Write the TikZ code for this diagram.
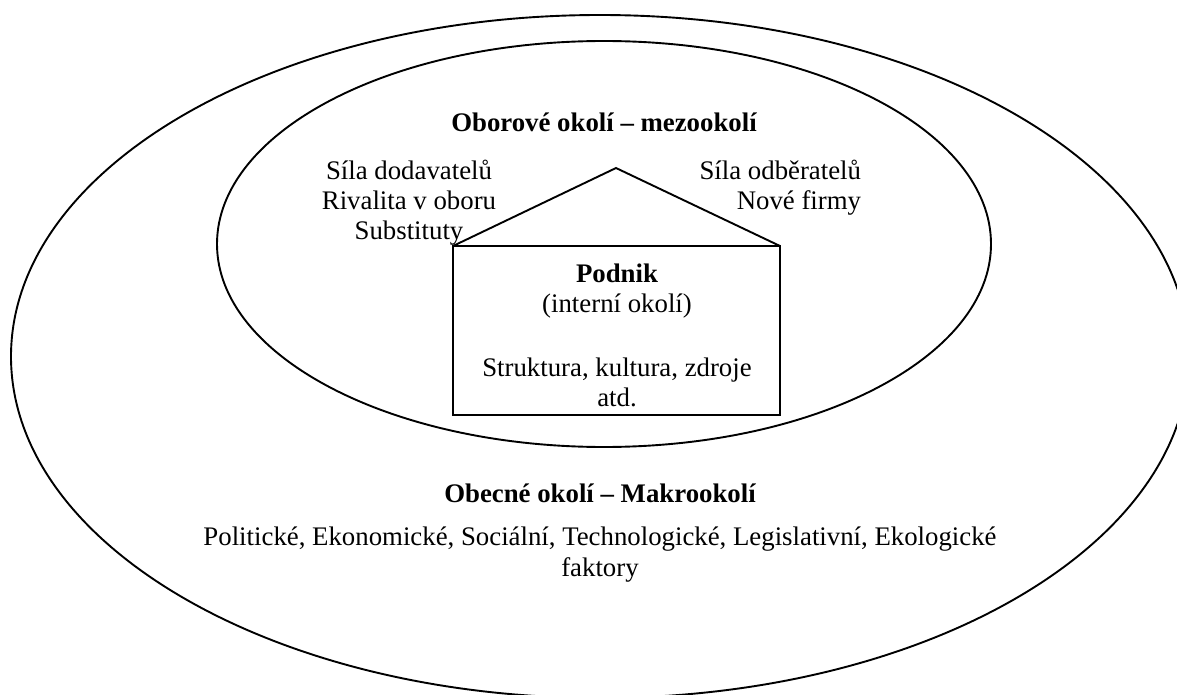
\documentclass[tikz,border=0pt]{standalone}
\usepackage{fontspec}
\setmainfont{Liberation Serif}
\usetikzlibrary{positioning}

\begin{document}
\begin{tikzpicture}[x=0.5pt, y=-0.5pt, line width=0.95pt,
  txt/.style={anchor=base, inner sep=0pt, font=\fontsize{13.4}{15}\selectfont},
  head/.style={txt, font=\fontsize{13.4}{15}\selectfont\bfseries}]
\clip (0,0) rectangle (1177,695);
\fill[white] (0,0) rectangle (1177,695);

% makro and mezo
\draw (600,356.5) ellipse [x radius=294.5pt, y radius=170.75pt];
\draw (604,244) ellipse [x radius=193.5pt, y radius=101.5pt];

% the house
\coordinate (roof) at (616,168);
\coordinate (hl) at (453,246);
\coordinate (hr) at (780,246);
\coordinate (hb) at (780,415);
\draw (hl) -- (roof) -- (hr);
\draw (hl) rectangle (hb);

\node[head] (mezo) at (604,132) {Oborové okolí – mezookolí};

\foreach \t [count=\i, evaluate=\i as \yb using 150+30*\i] in {Síla dodavatelů, Rivalita v oboru, Substituty}
  \node[txt] (sup\i) at (409,\yb) {\t};

\foreach \t [count=\i, evaluate=\i as \yb using 150+30*\i] in {Síla odběratelů, Nové firmy}
  \node[txt, anchor=base east] (buy\i) at (862,\yb) {\t};

\node[head] (firm) at (617,282) {Podnik};
\node[txt] (intern) at (617,312) {(interní okolí)};
\node[txt] (res1) at (617,376) {Struktura, kultura, zdroje};
\node[txt] (res2) at (617,406) {atd.};

\node[head] (makro) at (600,502) {Obecné okolí – Makrookolí};
\node[txt] (fact1) at (600,545) {Politické, Ekonomické, Sociální, Technologické, Legislativní, Ekologické};
\node[txt] (fact2) at (600,576) {faktory};
\end{tikzpicture}
\end{document}
